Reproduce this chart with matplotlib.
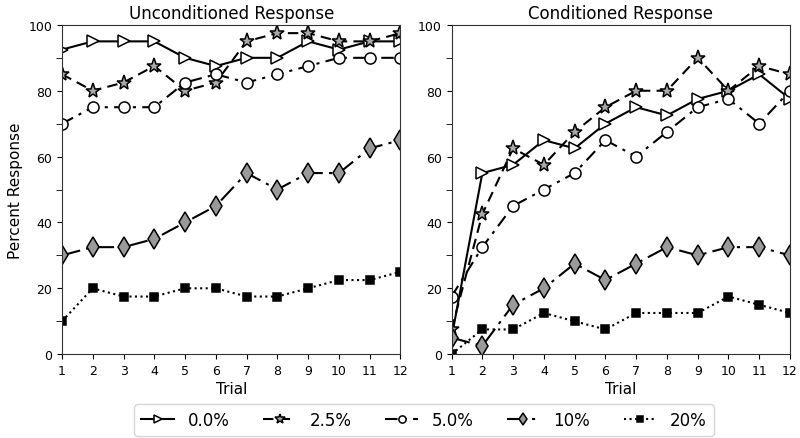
import numpy as np
import matplotlib.pyplot as plt
from matplotlib.ticker import MultipleLocator

trials = np.arange(1, 13)
labels = ["0.0%", "2.5%", "5.0%", "10%", "20%"]

# unconditioned response (%)
ur_00 = [92.5, 95, 95, 95, 90, 87.5, 90, 90, 95, 92.5, 95, 95]
ur_25 = [85, 80, 82.5, 87.5, 80, 82.5, 95, 97.5, 97.5, 95, 95, 97.5]
ur_50 = [70, 75, 75, 75, 82.5, 85, 82.5, 85, 87.5, 90, 90, 90]
ur_10 = [30, 32.5, 32.5, 35, 40, 45, 55, 50, 55, 55, 62.5, 65]
ur_20 = [10, 20, 17.5, 17.5, 20, 20, 17.5, 17.5, 20, 22.5, 22.5, 25]

# conditioned response (%)
cr_00 = [5, 55, 57.5, 65, 62.5, 70, 75, 72.5, 77.5, 80, 85, 77.5]
cr_25 = [7.5, 42.5, 62.5, 57.5, 67.5, 75, 80, 80, 90, 80, 87.5, 85]
cr_50 = [17.5, 32.5, 45, 50, 55, 65, 60, 67.5, 75, 77.5, 70, 80]
cr_10 = [5, 2.5, 15, 20, 27.5, 22.5, 27.5, 32.5, 30, 32.5, 32.5, 30]
cr_20 = [0, 7.5, 7.5, 12.5, 10, 7.5, 12.5, 12.5, 12.5, 17.5, 15, 12.5]

styles = [
    dict(ls='-', marker='>', mfc='white', ms=8),
    dict(ls=(0, (5, 3)), marker='*', mfc='#a8a8a8', ms=11),
    dict(ls=(0, (6, 3, 1.5, 3)), marker='o', mfc='white', ms=8),
    dict(ls=(0, (9, 3, 1.5, 3)), marker='d', mfc='#9a9a9a', ms=10),
    dict(ls=':', marker='s', mfc='black', ms=6),
]

plt.rcParams['axes.edgecolor'] = '#333333'

fig, axes = plt.subplots(1, 2, figsize=(8, 4.39), dpi=100)
fig.subplots_adjust(left=0.0775, right=0.9875, top=0.941, bottom=0.191, wspace=0.151)

for ax, series, title in [(axes[0], [ur_00, ur_25, ur_50, ur_10, ur_20], "Unconditioned Response"),
                          (axes[1], [cr_00, cr_25, cr_50, cr_10, cr_20], "Conditioned Response")]:
    for y, st, lab in zip(series, styles, labels):
        ax.plot(trials, y, color='black', lw=1.5, mec='black', mew=1.1, label=lab, **st)
    ax.set_xlim(1, 12)
    ax.set_ylim(0, 100)
    ax.set_xticks(trials)
    ax.set_yticks(range(0, 101, 20))
    ax.yaxis.set_minor_locator(MultipleLocator(10))
    ax.tick_params(labelsize=9)
    ax.tick_params(which='minor', length=4)
    ax.set_xlabel("Trial", fontsize=11, labelpad=3)
    ax.set_title(title, fontsize=12, pad=5)

axes[0].set_ylabel("Percent Response", fontsize=11)

handles, labs = axes[0].get_legend_handles_labels()
fig.legend(handles, labs, loc='lower center', ncol=5, bbox_to_anchor=(0.53, 0.0),
           fontsize=12, columnspacing=2.0, handlelength=2.0, markerscale=0.65,
           borderaxespad=0.15, frameon=True)

plt.savefig("out.png", dpi=100)
